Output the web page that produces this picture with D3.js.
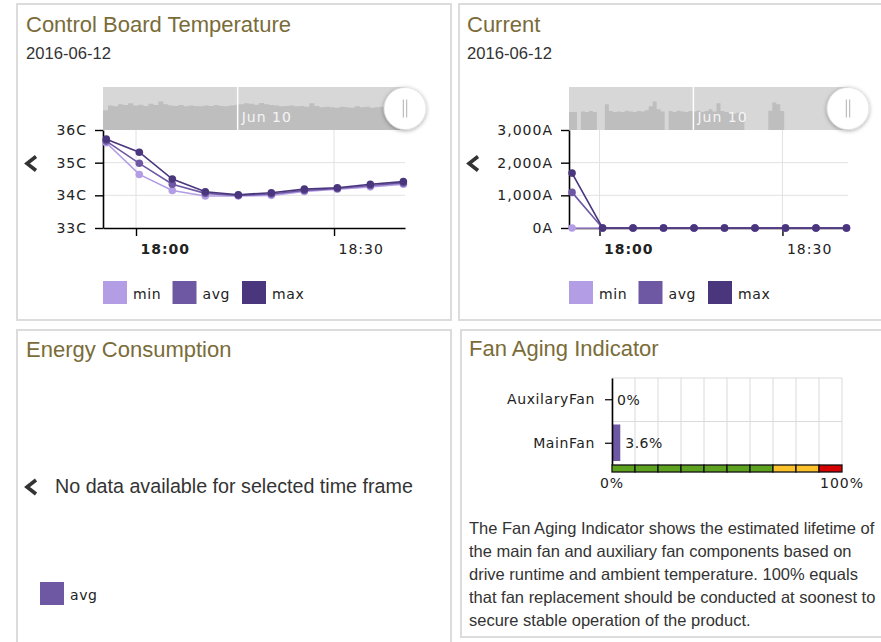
<!DOCTYPE html>
<html>
<head>
<meta charset="utf-8">
<script src="https://cdn.jsdelivr.net/npm/d3@7"></script>
<style>
  body { margin: 0; background: #fff; }
  svg text { font-family: "DejaVu Sans", Verdana, sans-serif; }
  .title { font-family: "Liberation Sans", Arial, sans-serif; font-size: 22px; fill: #7a6c38; }
  .date { font-family: "Liberation Sans", Arial, sans-serif; font-size: 16.6px; fill: #333; }
  .tick-label { font-size: 14px; letter-spacing: 1px; fill: #222; }
  .legend-label { font-size: 14px; letter-spacing: 0.6px; fill: #222; }
  .body-text { font-family: "Liberation Sans", Arial, sans-serif; fill: #333; }
</style>
</head>
<body>
<svg id="chart" width="881" height="642"></svg>
<script>
// ---- data ----
const chartDate = '2016-06-12';
const pointTimes = ['17:55:30', '18:00:30', '18:05:30', '18:10:30', '18:15:30',
                    '18:20:30', '18:25:30', '18:30:30', '18:35:30', '18:40:30'];
const timeRange = ['17:55:00', '18:40:45'];
const timeTicks = ['18:00:00', '18:30:00'];

const tempMin = [35.61, 34.64, 34.15, 33.98, 33.98, 34.00, 34.12, 34.19, 34.26, 34.34];
const tempAvg = [35.66, 34.98, 34.34, 34.06, 34.00, 34.04, 34.15, 34.21, 34.30, 34.38];
const tempMax = [35.72, 35.32, 34.50, 34.11, 34.02, 34.08, 34.19, 34.23, 34.34, 34.42];
const tempTicks = [33, 34, 35, 36];

const currentMin = [0, 0, 0, 0, 0, 0, 0, 0, 0, 0];
const currentAvg = [1090, 0, 0, 0, 0, 0, 0, 0, 0, 0];
const currentMax = [1680, 0, 0, 0, 0, 0, 0, 0, 0, 0];
const currentTicks = [0, 1000, 2000, 3000];

// navigator overview (percent of navigator height)
const navRange = ['2016-06-07 18:20:00', '2016-06-12 18:41:00'];
const navTickDates = ['2016-06-10 00:00:00'];
const navTemp = [46, 57, 55, 60, 58, 62, 57, 59, 56, 61, 58, 66, 60, 57, 56, 58, 55, 57, 56, 55,
                 57, 56, 58, 56, 55, 57, 58, 60, 62, 61, 59, 63, 60, 58, 57, 55, 56, 57, 55, 56,
                 54, 62, 56, 53, 54, 53, 52, 54, 53, 52, 55, 53, 54, 52, 53, 54, 52, 53, 52, 53];
const navCurrent = [42, 42, 0, 43, 42, 44, 42, 0, 0, 60, 44, 42, 43, 42, 45, 43, 42, 44, 43, 46,
                    55, 66, 48, 43, 0, 44, 42, 45, 43, 42, 44, 43, 45, 42, 44, 48, 43, 62, 44, 42,
                    40, 38, 40, 38, 0, 0, 0, 0, 0, 0, 45, 64, 60, 44, 0, 0, 0, 0, 0, 0,
                    0, 0, 0, 0, 0, 0, 0, 0, 0, 0];

const seriesNames = ['min', 'avg', 'max'];
const energyNames = ['avg'];

const fanNames = ['AuxilaryFan', 'MainFan'];
const fanValues = [0, 3.6];
const gaugeSteps = [0, 10, 20, 30, 40, 50, 60, 70, 80, 90, 100];
const gaugeColors = ['#5ea31f', '#5ea31f', '#5ea31f', '#5ea31f', '#5ea31f', '#5ea31f', '#5ea31f',
                     '#fbc22b', '#fbc22b', '#d60000'];
const fanNote = [
  'The Fan Aging Indicator shows the estimated lifetime of',
  'the main fan and auxiliary fan components based on',
  'drive runtime and ambient temperature. 100% equals',
  'that fan replacement should be conducted at soonest to',
  'secure stable operation of the product.'
];

// ---- styles ----
const colour = d3.scaleOrdinal().domain(seriesNames).range(['#b39de5', '#6f58a3', '#4a367d']);

const svg = d3.select('#chart');
const parseTime = d3.timeParse('%Y-%m-%d %H:%M:%S');
const atDay = t => parseTime(chartDate + ' ' + t);

// drop shadow for navigator handles
const defs = svg.append('defs');
defs.append('filter').attr('id', 'shadow')
    .attr('x', '-50%').attr('y', '-50%').attr('width', '200%').attr('height', '200%')
  .append('feDropShadow')
    .attr('dx', 0).attr('dy', 1).attr('stdDeviation', 2)
    .attr('flood-color', '#000').attr('flood-opacity', 0.35);

// panels
const panels = [
  { x: 17, y: 4, w: 434, h: 316 },
  { x: 459, y: 4, w: 440, h: 316 },
  { x: 17, y: 330, w: 434, h: 330 },
  { x: 461, y: 330, w: 440, h: 307 }
];
svg.selectAll('rect.panel')
  .data(panels)
  .enter()
  .append('rect')
    .attr('class', 'panel')
    .attr('x', d => d.x).attr('y', d => d.y)
    .attr('width', d => d.w).attr('height', d => d.h)
    .attr('fill', '#fff')
    .attr('stroke', '#dcdcdc')
    .attr('stroke-width', 2);

const chevron = (cx, cy) => {
  svg.append('path')
    .attr('d', `M${cx + 5},${cy - 7} L${cx - 4},${cy} L${cx + 5},${cy + 7}`)
    .attr('fill', 'none')
    .attr('stroke', '#333')
    .attr('stroke-width', 3.6);
};

const legend = (x0, y0, names) => {
  const items = svg.append('g').selectAll('g')
    .data(names)
    .enter()
    .append('g')
      .attr('transform', (d, i) => `translate(${x0 + i * 69.5},${y0})`);
  items.append('rect')
    .attr('width', 24).attr('height', 23)
    .attr('fill', d => colour(d));
  items.append('text')
    .attr('class', 'legend-label')
    .attr('x', 30).attr('y', 18)
    .text(d => d);
};

// ---- min / avg / max chart ----
const drawChart = (cfg) => {
  const top = 130, bottom = 228, navTop = 87;

  svg.append('text').attr('class', 'title').attr('x', cfg.tx).attr('y', 31.5).text(cfg.title);
  svg.append('text').attr('class', 'date').attr('x', cfg.tx).attr('y', 58.5).text(chartDate);

  const x = d3.scaleTime().domain(timeRange.map(atDay)).range([cfg.left, cfg.right]);
  const y = d3.scaleLinear().domain(d3.extent(cfg.ticks)).range([bottom, top]);
  const g = svg.append('g');

  // grid
  g.selectAll('line.hgrid')
    .data(cfg.ticks.slice(1, -1))
    .enter()
    .append('line')
      .attr('x1', cfg.left).attr('x2', cfg.right)
      .attr('y1', d => y(d)).attr('y2', d => y(d))
      .attr('stroke', '#e2e2e2');
  g.selectAll('line.vgrid')
    .data(timeTicks.map(atDay))
    .enter()
    .append('line')
      .attr('x1', d => x(d)).attr('x2', d => x(d))
      .attr('y1', top).attr('y2', bottom)
      .attr('stroke', '#e2e2e2');

  // axes
  const yAxis = g.append('g')
    .attr('transform', `translate(${cfg.left},0)`)
    .call(d3.axisLeft(y).tickValues(cfg.ticks).tickFormat(cfg.fmt)
      .tickSize(8).tickSizeOuter(0).tickPadding(8));
  const xAxis = g.append('g')
    .attr('transform', `translate(0,${bottom})`)
    .call(d3.axisBottom(x).tickValues(timeTicks.map(atDay)).tickFormat(d3.timeFormat('%H:%M'))
      .tickSize(8).tickSizeOuter(0).tickPadding(8));
  [yAxis, xAxis].forEach(a => {
    a.attr('font-family', null).attr('font-size', null);
    a.select('.domain').attr('stroke', '#000').attr('stroke-width', 1.6);
    a.selectAll('.tick line').attr('stroke', '#000').attr('stroke-width', 1.4);
    a.selectAll('.tick text').attr('class', 'tick-label').attr('fill', null);
  });
  xAxis.selectAll('.tick text')
    .attr('text-anchor', 'start')
    .attr('x', 4)
    .attr('font-weight', d => d.getMinutes() === 0 ? 'bold' : 'normal');

  // series
  const series = seriesNames.map((name, k) => ({
    name,
    values: cfg.data[k].map((v, i) => ({ t: atDay(pointTimes[i]), v }))
  }));
  const line = d3.line().x(d => x(d.t)).y(d => y(d.v));
  const sg = g.selectAll('g.series')
    .data(series)
    .enter()
    .append('g');
  sg.append('path')
    .attr('d', d => line(d.values))
    .attr('fill', 'none')
    .attr('stroke', d => colour(d.name))
    .attr('stroke-width', 1.6);
  sg.selectAll('circle')
    .data(d => d.values.map(p => ({ ...p, name: d.name })))
    .enter()
    .append('circle')
      .attr('cx', d => x(d.t)).attr('cy', d => y(d.v))
      .attr('r', 3.8)
      .attr('fill', d => colour(d.name));

  // navigator
  const nx = d3.scaleTime().domain(navRange.map(parseTime)).range([cfg.left, cfg.right]);
  const ny = d3.scaleLinear().domain([0, 100]).range([top, navTop]);
  const step = (nx.domain()[1] - nx.domain()[0]) / cfg.nav.length;
  const navPts = cfg.nav.map((v, i) => ({ t: new Date(+nx.domain()[0] + i * step), v }));
  navPts.push({ t: nx.domain()[1], v: cfg.nav[cfg.nav.length - 1] });
  const ng = svg.append('g');
  ng.append('rect')
    .attr('x', cfg.left).attr('y', navTop)
    .attr('width', cfg.right - cfg.left).attr('height', top - navTop)
    .attr('fill', '#d7d7d7');
  ng.append('path')
    .datum(navPts)
    .attr('d', d3.area().curve(d3.curveStepAfter).x(d => nx(d.t)).y0(top).y1(d => ny(d.v)))
    .attr('fill', '#bebebe');
  const navTicks = ng.selectAll('g.navtick')
    .data(navTickDates.map(parseTime))
    .enter()
    .append('g');
  navTicks.append('line')
    .attr('x1', d => nx(d)).attr('x2', d => nx(d))
    .attr('y1', navTop).attr('y2', top)
    .attr('stroke', '#fff').attr('stroke-width', 1.5);
  navTicks.append('text')
    .attr('class', 'tick-label')
    .attr('x', d => nx(d) + 4).attr('y', 122)
    .style('fill', '#f5f5f5')
    .text(d3.timeFormat('%b %d'));

  // handle
  const hx = cfg.right, hy = 108.5;
  ng.append('circle')
    .attr('cx', hx).attr('cy', hy).attr('r', 21)
    .attr('fill', '#fff').attr('stroke', '#d8d8d8').attr('stroke-width', 0.6)
    .attr('filter', 'url(#shadow)');
  ng.selectAll('line.grip')
    .data([-1.7, 1.7])
    .enter()
    .append('line')
      .attr('x1', d => hx + d).attr('x2', d => hx + d)
      .attr('y1', hy - 9).attr('y2', hy + 9)
      .attr('stroke', '#b0b0b0').attr('stroke-width', 1);

  chevron(cfg.chevX, 163.5);
  legend(cfg.left, 281, seriesNames);
};

drawChart({
  title: 'Control Board Temperature', tx: 26, left: 103, right: 405, chevX: 31,
  ticks: tempTicks, fmt: d => d + 'C',
  data: [tempMin, tempAvg, tempMax], nav: navTemp
});
drawChart({
  title: 'Current', tx: 467, left: 569, right: 848, chevX: 473,
  ticks: currentTicks, fmt: d => d3.format(',')(d) + 'A',
  data: [currentMin, currentAvg, currentMax], nav: navCurrent
});

// ---- energy consumption (no data) ----
svg.append('text').attr('class', 'title').attr('x', 26).attr('y', 357).text('Energy Consumption');
chevron(31, 487);
svg.append('text')
  .attr('class', 'body-text')
  .attr('x', 55).attr('y', 493)
  .attr('font-size', 19.7)
  .text('No data available for selected time frame');
legend(40, 582, energyNames);

// ---- fan aging indicator ----
svg.append('text').attr('class', 'title').attr('x', 469).attr('y', 356).text('Fan Aging Indicator');

const fx = d3.scaleLinear().domain([0, 100]).range([612, 842]);
const fy = d3.scaleBand().domain(fanNames).range([378, 465]);
const fg = svg.append('g');

fg.selectAll('line.fvgrid')
  .data(gaugeSteps)
  .enter()
  .append('line')
    .attr('x1', d => fx(d)).attr('x2', d => fx(d))
    .attr('y1', 378).attr('y2', 465)
    .attr('stroke', '#dadada');
fg.selectAll('line.fhgrid')
  .data(fanNames)
  .enter()
  .append('line')
    .attr('x1', fx(0)).attr('x2', fx(100))
    .attr('y1', d => fy(d)).attr('y2', d => fy(d))
    .attr('stroke', '#dadada');

fg.selectAll('rect.fan')
  .data(fanNames.map((n, i) => ({ n, v: fanValues[i] })))
  .enter()
  .append('rect')
    .attr('x', fx(0))
    .attr('y', d => fy(d.n) + 3)
    .attr('width', d => fx(d.v) - fx(0))
    .attr('height', fy.bandwidth() - 7)
    .attr('fill', colour('avg'));

fg.selectAll('text.fanval')
  .data(fanNames.map((n, i) => ({ n, v: fanValues[i] })))
  .enter()
  .append('text')
    .attr('class', 'tick-label')
    .style('letter-spacing', '0.5px')
    .attr('x', d => fx(d.v) + 5)
    .attr('y', d => fy(d.n) + fy.bandwidth() / 2 + 5)
    .text(d => d.v + '%');

const fAxis = fg.append('g')
  .attr('transform', `translate(${fx(0)},0)`)
  .call(d3.axisLeft(fy).tickSize(7).tickSizeOuter(0).tickPadding(10));
fAxis.attr('font-family', null).attr('font-size', null);
fAxis.select('.domain').attr('stroke', '#000').attr('stroke-width', 1.6);
fAxis.selectAll('.tick line').attr('stroke', '#000').attr('stroke-width', 1.2);
fAxis.selectAll('.tick text').attr('class', 'tick-label').attr('fill', null)
  .style('letter-spacing', '0.6px');

// gauge strip
fg.selectAll('rect.gauge')
  .data(gaugeColors)
  .enter()
  .append('rect')
    .attr('x', (d, i) => fx(gaugeSteps[i]))
    .attr('y', 465)
    .attr('width', (d, i) => fx(gaugeSteps[i + 1]) - fx(gaugeSteps[i]))
    .attr('height', 7)
    .attr('fill', d => d)
    .attr('stroke', '#111')
    .attr('stroke-width', 1.3);

fg.selectAll('text.gaugeLabel')
  .data([0, 100])
  .enter()
  .append('text')
    .attr('class', 'tick-label')
    .attr('text-anchor', 'middle')
    .attr('x', d => fx(d))
    .attr('y', 488)
    .text(d => d + '%');

svg.append('g').selectAll('text')
  .data(fanNote)
  .enter()
  .append('text')
    .attr('class', 'body-text')
    .attr('x', 469)
    .attr('y', (d, i) => 534 + i * 23)
    .attr('font-size', 16.5)
    .text(d => d);
</script>
</body>
</html>
